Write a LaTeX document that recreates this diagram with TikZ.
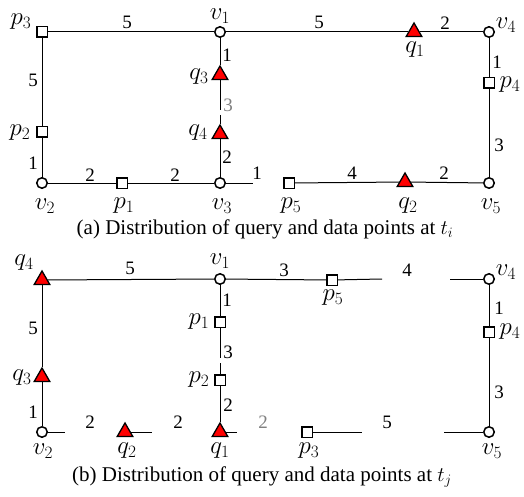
\documentclass[tikz,border=0pt]{standalone}
\usepackage{fontspec}
\setmainfont{Liberation Serif}
\usetikzlibrary{shapes.geometric}

\begin{document}
\begin{tikzpicture}[x=1pt,y=-1pt,
    vtx/.style={circle,draw,line width=1.5pt,fill=white,minimum size=10.5pt,inner sep=0pt},
    dat/.style={rectangle,draw,line width=1.5pt,fill=white,minimum size=10.5pt,inner sep=0pt},
    qry/.style={regular polygon,regular polygon sides=3,draw,line width=1.3pt,fill=red,minimum size=18pt,inner sep=0pt},
    road/.style={line width=1pt},
    wt/.style={font=\fontsize{19}{19}\selectfont,inner sep=0pt},
    ghost/.style={wt,gray},
    lbl/.style={font=\fontsize{23}{23}\selectfont,inner sep=0pt},
    figcap/.style={font=\fontsize{21}{21}\selectfont,inner sep=0pt}]
  \useasboundingbox (0,0) rectangle (524,497);

  % ---------- (a) points at t_i ----------
  \node[dat] (a-p3) at (42,32) {};
  \node[vtx] (a-v1) at (220,32) {};
  \node[qry] (a-q1) at (414,32) {};
  \node[vtx] (a-v4) at (489,32) {};
  \node[dat] (a-p4) at (489,83) {};
  \node[vtx] (a-v5) at (489,183) {};
  \node[qry] (a-q2) at (405,182) {};
  \node[dat] (a-p5) at (289,183) {};
  \node[vtx] (a-v3) at (220,183) {};
  \node[qry] (a-q4) at (220,134) {};
  \node[qry] (a-q3) at (220,75) {};
  \node[dat] (a-p1) at (122,183) {};
  \node[vtx] (a-v2) at (42,183) {};
  \node[dat] (a-p2) at (42,132) {};
  % loose ends of broken roads
  \coordinate (a-g1) at (253,183);
  \coordinate (a-g2) at (220,110);
  \coordinate (a-g3) at (220,115);
  % roads
  \foreach \s/\t in {a-p3/a-v1,a-v1/a-q1,a-q1/a-v4,a-v4/a-p4,a-p4/a-v5,
      a-v5/a-q2,a-q2/a-p5,a-v3/a-g1,a-v3/a-p1,a-p1/a-v2,a-v2/a-p2,
      a-p2/a-p3,a-v1/a-q3,a-q3/a-g2,a-g3/a-q4,a-q4/a-v3}
    \draw[road] (\s) -- (\t);
  % point labels
  \node[lbl] (a-p3l) at (21,22) {$p_3$};
  \node[lbl] (a-v1l) at (220,16) {$v_1$};
  \node[lbl] (a-v4l) at (506,25) {$v_4$};
  \node[lbl] (a-q1l) at (415,50) {$q_1$};
  \node[lbl] (a-p4l) at (510,85) {$p_4$};
  \node[lbl] (a-q3l) at (199,77) {$q_3$};
  \node[lbl] (a-q4l) at (198,133) {$q_4$};
  \node[lbl] (a-p2l) at (20,133) {$p_2$};
  \node[lbl] (a-v2l) at (45,206) {$v_2$};
  \node[lbl] (a-p1l) at (124,206) {$p_1$};
  \node[lbl] (a-v3l) at (222,206) {$v_3$};
  \node[lbl] (a-p5l) at (291,206) {$p_5$};
  \node[lbl] (a-q2l) at (408,206) {$q_2$};
  \node[lbl] (a-v5l) at (491,206) {$v_5$};
  % road lengths
  \foreach \x/\y/\w [count=\i] in {127/22/5,319/22/5,445/23/2,497/62/1,
      499/145/3,227/55/1,227/157/2,33/80/5,33/163/1,90/175/2,175/175/2,
      257/173/1,352/173/4,444/173/2}
    \node[wt] (a-w\i) at (\x,\y) {\w};
  \node[ghost] (a-w0) at (228,105) {3};
  \node[figcap] (a-cap) at (265,229) {(a) Distribution of query and data points at $t_i$};

  % ---------- (b) points at t_j ----------
  \node[qry] (b-q4) at (42,280) {};
  \node[vtx] (b-v1) at (220,279) {};
  \node[dat] (b-p5) at (332,280) {};
  \node[vtx] (b-v4) at (489,279) {};
  \node[dat] (b-p4) at (489,332) {};
  \node[vtx] (b-v5) at (489,432) {};
  \node[dat] (b-p3) at (307,432) {};
  \node[qry] (b-q1) at (220,432) {};
  \node[qry] (b-q2) at (125,432) {};
  \node[vtx] (b-v2) at (42,432) {};
  \node[qry] (b-q3) at (42,377) {};
  \node[dat] (b-p1) at (220,322) {};
  \node[dat] (b-p2) at (220,380) {};
  % loose ends of broken roads
  \coordinate (b-g1) at (65,432);
  \coordinate (b-g2) at (152,432);
  \coordinate (b-g3) at (237,432);
  \coordinate (b-g4) at (362,432);
  \coordinate (b-g5) at (444,432);
  \coordinate (b-g6) at (382,279);
  \coordinate (b-g7) at (450,279);
  \coordinate (b-g8) at (220,358);
  \coordinate (b-g9) at (220,363);
  % roads
  \foreach \s/\t in {b-q4/b-v1,b-v1/b-p5,b-p5/b-g6,b-g7/b-v4,b-v4/b-p4,
      b-p4/b-v5,b-g5/b-v5,b-p3/b-g4,b-q1/b-g3,b-q2/b-g2,b-v2/b-g1,
      b-v2/b-q3,b-q3/b-q4,b-v1/b-p1,b-p1/b-g8,b-g9/b-p2,b-p2/b-q1}
    \draw[road] (\s) -- (\t);
  % point labels
  \node[lbl] (b-q4l) at (24,263) {$q_4$};
  \node[lbl] (b-v1l) at (220,261) {$v_1$};
  \node[lbl] (b-p5l) at (333,298) {$p_5$};
  \node[lbl] (b-v4l) at (506,272) {$v_4$};
  \node[lbl] (b-p4l) at (510,332) {$p_4$};
  \node[lbl] (b-p1l) at (199,322) {$p_1$};
  \node[lbl] (b-p2l) at (199,380) {$p_2$};
  \node[lbl] (b-q3l) at (22,378) {$q_3$};
  \node[lbl] (b-v2l) at (43,451) {$v_2$};
  \node[lbl] (b-q2l) at (127,451) {$q_2$};
  \node[lbl] (b-q1l) at (220,451) {$q_1$};
  \node[lbl] (b-p3l) at (309,451) {$p_3$};
  \node[lbl] (b-v5l) at (492,451) {$v_5$};
  % road lengths
  \foreach \x/\y/\w [count=\i] in {130/268/5,284/270/3,407/270/4,227/300/1,
      228/352/3,228/405/2,33/328/5,33/412/1,90/422/2,178/422/2,
      387/422/5,499/308/1,499/392/3}
    \node[wt] (b-w\i) at (\x,\y) {\w};
  \node[ghost] (b-w0) at (263,422) {2};
  \node[figcap] (b-cap) at (262,477) {(b) Distribution of query and data points at $t_j$};
\end{tikzpicture}
\end{document}
